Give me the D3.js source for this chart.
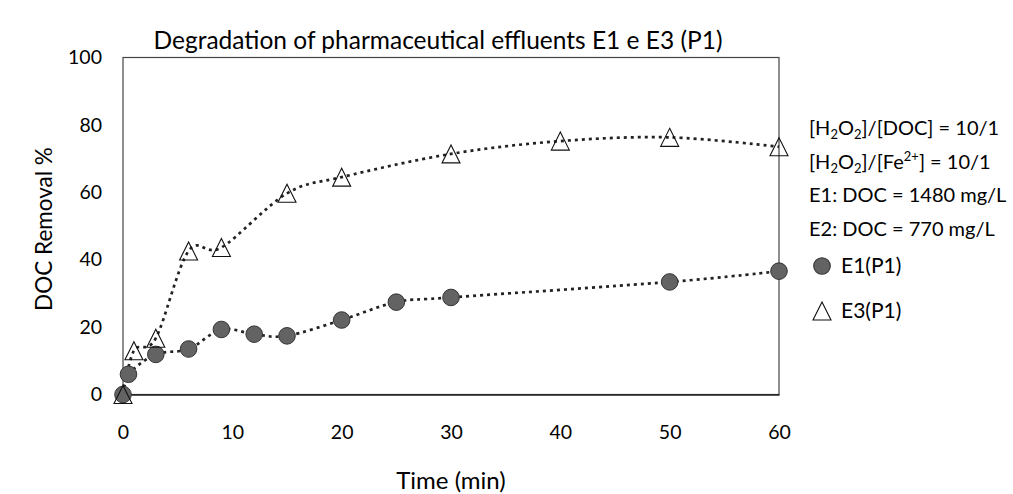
<!DOCTYPE html>
<html>
<head>
<meta charset="utf-8">
<script src="https://cdn.jsdelivr.net/npm/d3@7"></script>
<style>
  body { margin: 0; background: #fff; }
  text { font-family: Lato, "Open Sans", sans-serif; fill: #000; }
</style>
</head>
<body>
<div class="chart"></div>
<script>
// DOC removal over time, two effluents
const timeE1 = [0, 0.5, 3, 6, 9, 12, 15, 20, 25, 30, 50, 60];
const removalE1 = [0, 6.0, 11.9, 13.5, 19.3, 17.9, 17.4, 22.1, 27.4, 28.8, 33.4, 36.6];
const timeE3 = [0, 1, 3, 6, 9, 15, 20, 30, 40, 50, 60];
const removalE3 = [0, 13.0, 16.7, 42.6, 43.6, 59.7, 64.5, 71.4, 75.2, 76.3, 73.5];
const xTicks = [0, 10, 20, 30, 40, 50, 60];
const yTicks = [0, 20, 40, 60, 80, 100];
// each note is a list of [text, 'n' | 'sub' | 'sup']
const notes = [
    [["[H", "n"], ["2", "sub"], ["O", "n"], ["2", "sub"], ["]/[DOC] = 10/1", "n"]],
    [["[H", "n"], ["2", "sub"], ["O", "n"], ["2", "sub"], ["]/[Fe", "n"], ["2+", "sup"], ["] = 10/1", "n"]],
    [["E1: DOC = 1480 mg/L", "n"]],
    [["E2: DOC = 770 mg/L", "n"]]
];
const seriesNames = ["E1(P1)", "E3(P1)"];

const width = 1013, height = 494;
const margin = {top: 57.5, right: 234, bottom: 99.5, left: 123};

const svg = d3.select('.chart')
    .append('svg')
    .attr('width', width)
    .attr('height', height);

const xScale = d3.scaleLinear()
    .domain([0, 60])
    .range([margin.left, width - margin.right]);

const yScale = d3.scaleLinear()
    .domain([0, 100])
    .range([height - margin.bottom, margin.top]);

// plot box
svg.append('rect')
    .attr('x', xScale(0))
    .attr('y', yScale(100))
    .attr('width', xScale(60) - xScale(0))
    .attr('height', yScale(0) - yScale(100))
    .attr('fill', 'none')
    .attr('stroke', '#444')
    .attr('stroke-width', 1.2);

const xAxis = d3.axisBottom(xScale).tickValues(xTicks).tickSize(0).tickPadding(31);
const yAxis = d3.axisLeft(yScale).tickValues(yTicks).tickSize(0).tickPadding(21);

svg.append('g')
    .attr('class', 'axis x-axis')
    .attr('transform', `translate(0,${yScale(0)})`)
    .call(xAxis)
    .call(g => g.select('.domain').attr('stroke', '#222').attr('stroke-width', 1.5));

svg.append('g')
    .attr('class', 'axis y-axis')
    .attr('transform', `translate(${xScale(0)},0)`)
    .call(yAxis)
    .call(g => g.select('.domain').remove());

svg.selectAll('.axis text')
    .style('font-family', 'Lato, sans-serif')
    .style('font-size', '19.5px')
    .attr('fill', '#000');

const line = d3.line()
    .x(d => xScale(d[0]))
    .y(d => yScale(d[1]))
    .curve(d3.curveCardinal.tension(0));

const e1 = timeE1.map((t, i) => [t, removalE1[i]]);
const e3 = timeE3.map((t, i) => [t, removalE3[i]]);

[e1, e3].forEach(data => {
    svg.append('path')
        .datum(data)
        .attr('d', line)
        .attr('fill', 'none')
        .attr('stroke', '#222')
        .attr('stroke-width', 2.7)
        .attr('stroke-dasharray', '3,4');
});

// 18x18 open triangle like the Excel marker
const triangle = {
    draw(ctx, size) {
        const h = Math.sqrt(size) / 2;
        ctx.moveTo(0, -h);
        ctx.lineTo(h, h);
        ctx.lineTo(-h, h);
        ctx.closePath();
    }
};
const tri = d3.symbol().type(triangle).size(324);

svg.selectAll('.e1')
    .data(e1)
    .enter()
    .append('circle')
    .attr('cx', d => xScale(d[0]))
    .attr('cy', d => yScale(d[1]))
    .attr('r', 8.3)
    .attr('fill', '#636363')
    .attr('stroke', '#333')
    .attr('stroke-width', 1);

svg.selectAll('.e3')
    .data(e3)
    .enter()
    .append('path')
    .attr('d', tri)
    .attr('transform', d => `translate(${xScale(d[0])},${yScale(d[1])})`)
    .attr('fill', 'none')
    .attr('stroke', '#111')
    .attr('stroke-width', 1.1);

// title + axis labels
svg.append('text')
    .attr('x', 438)
    .attr('y', 49)
    .attr('text-anchor', 'middle')
    .style('font-size', '24.5px')
    .text('Degradation of pharmaceutical effluents E1 e E3 (P1)');

svg.append('text')
    .attr('x', 451)
    .attr('y', 489)
    .attr('text-anchor', 'middle')
    .style('font-size', '24px')
    .text('Time (min)');

svg.append('text')
    .attr('transform', 'translate(52,229) rotate(-90)')
    .attr('text-anchor', 'middle')
    .style('font-size', '22.5px')
    .text('DOC  Removal %');

// notes on the right
notes.forEach((parts, i) => {
    const t = svg.append('text')
        .attr('x', 809)
        .attr('y', 135 + i * 33.7)
        .style('font-size', '20px');
    let shift = 0;
    parts.forEach(([s, kind]) => {
        const target = kind === 'sub' ? 4 : kind === 'sup' ? -8 : 0;
        t.append('tspan')
            .attr('dy', target - shift)
            .style('font-size', kind === 'n' ? '20px' : '13px')
            .text(s);
        shift = target;
    });
});

svg.selectAll('.legendSym')
    .data(seriesNames)
    .enter()
    .append('path')
    .attr('d', (d, i) => i === 0 ? d3.symbol().type(d3.symbolCircle).size(Math.PI * 8.3 * 8.3)() : tri())
    .attr('transform', (d, i) => `translate(822,${266 + i * 45})`)
    .attr('fill', (d, i) => i === 0 ? '#636363' : 'none')
    .attr('stroke', (d, i) => i === 0 ? '#333' : '#111')
    .attr('stroke-width', 1.1);

svg.selectAll('.legendText')
    .data(seriesNames)
    .enter()
    .append('text')
    .attr('x', 841)
    .attr('y', (d, i) => 273 + i * 45)
    .style('font-size', '21px')
    .text(d => d);
</script>
</body>
</html>
